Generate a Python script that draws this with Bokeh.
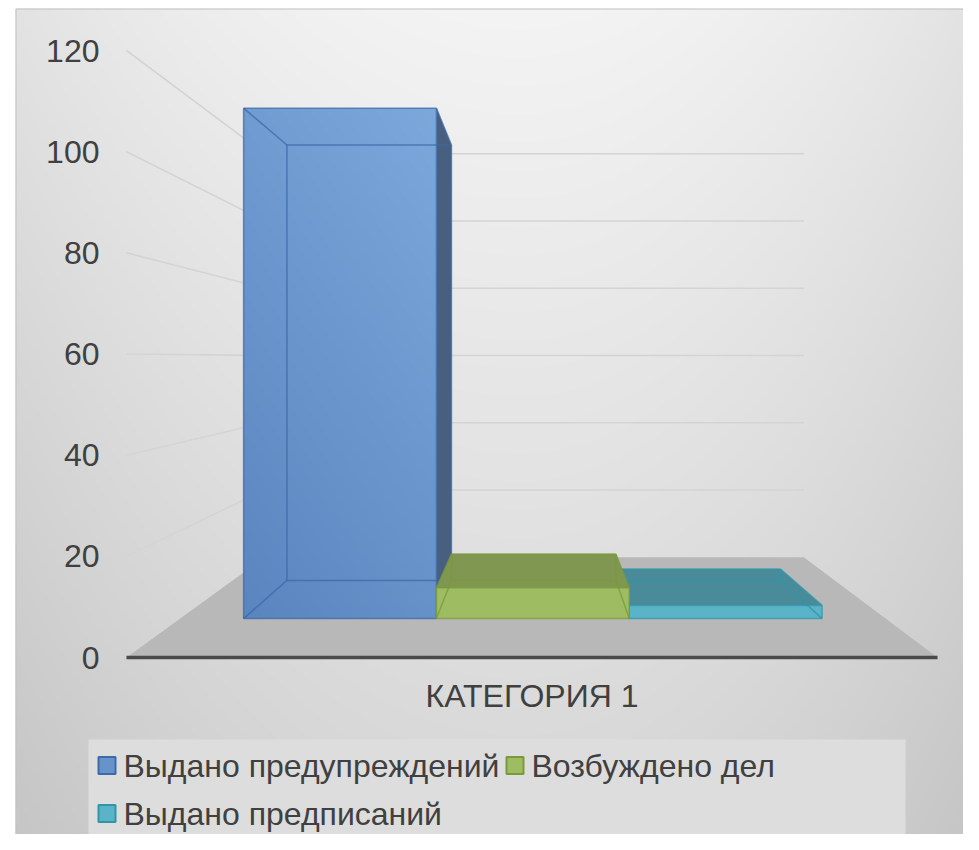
import numpy as np
from bokeh.plotting import figure
from bokeh.models import Range1d, ColumnDataSource
from bokeh.core.properties import value
from bokeh.embed import file_html
from bokeh.resources import INLINE

# ---------------- data ----------------
categories = ["КАТЕГОРИЯ 1"]
series = ["Выдано предупреждений", "Возбуждено дел", "Выдано предписаний"]
values = [116, 7, 3]
y_ticks = [0, 20, 40, 60, 80, 100, 120]

# ---------------- styles ----------------
front_colors = ["#6792ca", "#9ebd63", "#5bb3c8"]
side_colors = ["#485f80", "#7f9750", "#4a8b9a"]
top_colors = ["#5f8bc4", "#7f9750", "#4a8b9a"]
edge_colors = ["#3c6aa8", "#7a9a3a", "#2f95ab"]
BLUE_GRAD = ((0x5a, 0x85, 0xbf), (0x7c, 0xa8, 0xdc))
FONT = value("Liberation Sans")
TEXT_COLOR = "#404040"
FS = "32px"

W, H = 963, 834
# canvas pixel of data origin (front-left floor corner) and pixel scales
OX, OY = 126.0, 657.0
SX, SY = 811.0, 5.0583


def X(px):
    return (px - OX) / SX


def Y(py):
    return (OY - py) / SY


# perspective: vanishing point and depth factor
XV, YV = X(538), Y(358)
K = 1 / 0.665 - 1
Z_FRONT, Z_BACK = 0.297, 0.690
GAP = 0.09


def proj(x, y, z):
    f = 1.0 / (1.0 + K * z)
    return XV + (x - XV) * f, YV + (y - YV) * f


def rgba_image(r, g, b):
    rows, cols = r.shape
    img = np.empty((rows, cols), dtype=np.uint32)
    view = img.view(dtype=np.uint8).reshape((rows, cols, 4))
    view[..., 0] = np.clip(r, 0, 255).astype(np.uint8)
    view[..., 1] = np.clip(g, 0, 255).astype(np.uint8)
    view[..., 2] = np.clip(b, 0, 255).astype(np.uint8)
    view[..., 3] = 255
    return img


p = figure(width=W, height=H, output_backend="svg", toolbar_location=None,
           x_range=Range1d(X(0), X(W)), y_range=Range1d(Y(H), Y(0)),
           x_axis_type=None, y_axis_type=None, min_border=0)
p.outline_line_color = None
p.background_fill_color = "white"
p.border_fill_color = "white"
p.xgrid.visible = False
p.ygrid.visible = False

# ---------------- background gradient ----------------
cols, rows = 474, 413
px = np.linspace(15, W, cols)
py = np.linspace(H, 8, rows)
PX, PY = np.meshgrid(px, py)
dx = (PX - 520) / 460
kx = np.where(dx < 0, 14.0, 18.0)
gg = 244 - 30 * (PY / 850) - kx * dx ** 2
p.image_rgba(image=[rgba_image(gg, gg, gg)], x=X(15), y=Y(H),
             dw=X(W) - X(15), dh=Y(8) - Y(H))
p.multi_line(xs=[[X(15.5), X(15.5), X(W)]], ys=[[Y(H), Y(8.5), Y(8.5)]],
             line_color="#c2c2c2", line_width=1)

# ---------------- walls gridlines ----------------
gxs, gys = [], []
for v in y_ticks[1:]:
    pts = [proj(0, v, 0), proj(0, v, 1), proj(1, v, 1)]
    gxs.append([q[0] for q in pts])
    gys.append([q[1] for q in pts])
p.multi_line(xs=gxs, ys=gys, line_color="#d4d4d4", line_width=1.6)

# ---------------- floor ----------------
fl = [proj(0, 0, 0), proj(1, 0, 0), proj(1, 0, 1), proj(0, 0, 1)]
p.patch(x=[q[0] for q in fl], y=[q[1] for q in fl], fill_color="#b8b8b8", line_color=None)
p.line(x=[0, 1], y=[0, 0], line_color="#4a4a4a", line_width=3.5)

# ---------------- bars ----------------
bw = (1 - 2 * GAP) / len(series)


def bar_geometry(i, v):
    x0 = GAP + i * bw
    x1 = x0 + bw
    c = {}
    for xi, xx in (("l", x0), ("r", x1)):
        for yi, yy in (("b", 0), ("t", v)):
            for zi, zz in (("f", Z_FRONT), ("k", Z_BACK)):
                c[xi + yi + zi] = proj(xx, yy, zz)
    return x0, x1, c


def draw_bar(i):
    v = values[i]
    x0, x1, c = bar_geometry(i, v)
    faces, fcols = [], []
    if x1 < XV:
        faces.append(["rbf", "rbk", "rtk", "rtf"]); fcols.append(side_colors[i])
    if x0 > XV:
        faces.append(["lbf", "lbk", "ltk", "ltf"]); fcols.append(side_colors[i])
    if v < YV:
        faces.append(["ltf", "rtf", "rtk", "ltk"]); fcols.append(top_colors[i])
    if i != 0:
        faces.append(["lbf", "rbf", "rtf", "ltf"]); fcols.append(front_colors[i])
    src = ColumnDataSource(dict(
        xs=[[c[k][0] for k in f] for f in faces],
        ys=[[c[k][1] for k in f] for f in faces],
        color=fcols))
    p.patches(xs="xs", ys="ys", fill_color="color", line_color=None, source=src)
    if i == 0:
        # front face (axis-aligned on screen) with a diagonal gradient
        fx0, fy0 = c["lbf"]
        fx1, fy1 = c["rtf"]
        nr, nc = 128, 48
        u, w = np.meshgrid(np.linspace(0, 1, nc), np.linspace(0, 1, nr))
        t = 0.35 * u + 0.65 * w
        (r0, g0, b0), (r1, g1, b1) = BLUE_GRAD
        im = rgba_image(r0 + (r1 - r0) * t, g0 + (g1 - g0) * t, b0 + (b1 - b0) * t)
        p.image_rgba(image=[im], x=fx0, y=fy0, dw=fx1 - fx0, dh=fy1 - fy0)
    edges = [("lbf", "rbf"), ("rbf", "rtf"), ("rtf", "ltf"), ("ltf", "lbf"),
             ("lbk", "rbk"), ("rbk", "rtk"), ("rtk", "ltk"), ("ltk", "lbk"),
             ("lbf", "lbk"), ("rbf", "rbk"), ("rtf", "rtk"), ("ltf", "ltk")]
    p.multi_line(xs=[[c[a][0], c[b][0]] for a, b in edges],
                 ys=[[c[a][1], c[b][1]] for a, b in edges],
                 line_color=edge_colors[i], line_width=1.5, line_alpha=0.75)


for i in (0, 2, 1):
    draw_bar(i)

# ---------------- axis labels ----------------
p.text(x=[0] * len(y_ticks), y=y_ticks, text=[str(t) for t in y_ticks],
       x_offset=-27, text_align="right", text_baseline="middle",
       text_font=FONT, text_font_size=FS, text_color=TEXT_COLOR)
p.text(x=[0.5], y=[0], text=categories, y_offset=38, text_align="center",
       text_baseline="middle", text_font=FONT, text_font_size=FS,
       text_color=TEXT_COLOR)

# ---------------- legend ----------------
p.quad(left=X(88), right=X(905), top=Y(739), bottom=Y(834),
       fill_color="#dddddd", line_color=None)
leg_sq_x = [X(106.5), X(514.5), X(106.5)]
leg_sq_y = [Y(765), Y(765), Y(813)]
leg_tx_x = [X(123), X(531), X(123)]
p.rect(x=leg_sq_x, y=leg_sq_y, width=17, height=17, width_units="screen",
       height_units="screen", fill_color=front_colors, line_color=edge_colors,
       line_width=2)
p.text(x=leg_tx_x, y=leg_sq_y, text=series, text_align="left",
       text_baseline="middle", text_font=FONT, text_font_size=FS,
       text_color=TEXT_COLOR)

open("out.html", "w").write(file_html(p, INLINE))
